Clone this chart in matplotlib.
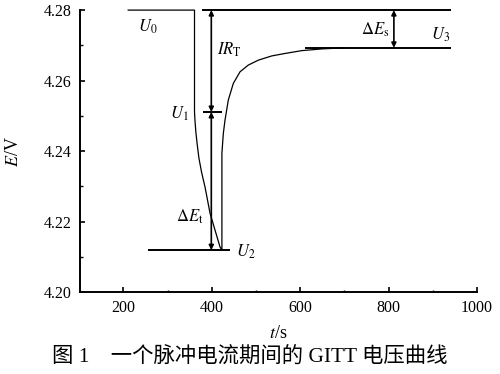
import numpy as np
import matplotlib
matplotlib.use('Agg')
import matplotlib.pyplot as plt
from matplotlib.ticker import MultipleLocator

plt.rcParams['font.family'] = ['Liberation Serif', 'Noto Sans CJK SC']
plt.rcParams['mathtext.fontset'] = 'stix'

# voltage curve (t in s, E in V)
t_curve = [211, 361, 361, 362, 364, 367, 371, 377, 384.8, 396.1, 407.4, 418.7, 423,
           423, 426.2, 430, 437.5, 448.8, 464, 482.7, 505.4, 535.7, 565.8,
           603.5, 650, 700]
e_curve = [4.2800, 4.2800, 4.2511, 4.2488, 4.2455, 4.2420, 4.2380, 4.2340, 4.2298, 4.2224, 4.2176, 4.2128, 4.2119,
           4.2394, 4.2450, 4.2488, 4.2545, 4.2592, 4.2625, 4.2644, 4.2658, 4.2670, 4.2677,
           4.2685, 4.2690, 4.2693]

# reference levels
U0 = 4.2800
U1 = 4.2511
U2 = 4.2119
U3 = 4.2693

# horizontal marker lines: (t_start, t_end, level)
top_line = (377, 942, U0)
u1_line = (380, 423, U1)
u2_line = (256, 441, U2)
u3_line = (610, 942, U3)

# arrow positions
t_arrow_ir = 399
t_arrow_es = 812

fig = plt.figure(figsize=(5, 3.74), dpi=100)
ax = fig.add_axes([0.16, 0.219, 0.794, 0.754])

ax.plot(t_curve, e_curve, color='k', lw=0.9, clip_on=False)

for ts, te, lev in [top_line, u1_line, u2_line, u3_line]:
    ax.plot([ts, te], [lev, lev], color='k', lw=1.4, clip_on=False, solid_capstyle='butt')

arr = dict(arrowstyle='<|-|>', color='k', lw=1.2, mutation_scale=7, shrinkA=0, shrinkB=0)
ax.annotate('', xy=(t_arrow_ir, U0), xytext=(t_arrow_ir, U1), arrowprops=arr, annotation_clip=False)
ax.annotate('', xy=(t_arrow_ir, U1), xytext=(t_arrow_ir, U2), arrowprops=arr, annotation_clip=False)
ax.annotate('', xy=(t_arrow_es, U0), xytext=(t_arrow_es, U3), arrowprops=arr, annotation_clip=False)

fs = 12
ax.text(256, 4.2752, r'$U_0$', fontsize=fs, ha='center', va='center')
ax.text(412, 4.2687, r'$IR_{\rm T}$', fontsize=fs, ha='left', va='center')
ax.text(326, 4.2505, r'$U_1$', fontsize=fs, ha='center', va='center')
ax.text(351, 4.2214, r'$\Delta E_{\rm t}$', fontsize=fs, ha='center', va='center')
ax.text(476, 4.2113, r'$U_2$', fontsize=fs, ha='center', va='center')
ax.text(770, 4.2743, r'$\Delta E_{\rm s}$', fontsize=fs, ha='center', va='center')
ax.text(917, 4.2729, r'$U_3$', fontsize=fs, ha='center', va='center')

ax.set_xlim(102, 1000)
ax.set_ylim(4.20, 4.28)
ax.set_xticks([200, 400, 600, 800, 1000])
ax.set_yticks([4.20, 4.22, 4.24, 4.26, 4.28])
ax.set_yticklabels(['4.20', '4.22', '4.24', '4.26', '4.28'])
ax.xaxis.set_minor_locator(MultipleLocator(100))
ax.yaxis.set_minor_locator(MultipleLocator(0.01))
ax.tick_params(which='major', direction='in', length=3.5, width=1.2, labelsize=11.5, pad=6)
ax.tick_params(which='minor', direction='in', length=1.8, width=1.0)
ax.spines['top'].set_visible(False)
ax.spines['right'].set_visible(False)
ax.spines['left'].set_linewidth(1.4)
ax.spines['bottom'].set_linewidth(1.4)

ax.set_xlabel(r'$t$/s', fontsize=13)
ax.set_ylabel(r'$E$/V', fontsize=13)
ax.xaxis.set_label_coords(0.5, -0.118)
ax.yaxis.set_label_coords(-0.145, 0.5)

fig.text(0.5, 0.045, '图 1\u3000一个脉冲电流期间的 GITT 电压曲线', fontsize=15.4,
         ha='center', va='center')

fig.savefig('out.png', dpi=100)
